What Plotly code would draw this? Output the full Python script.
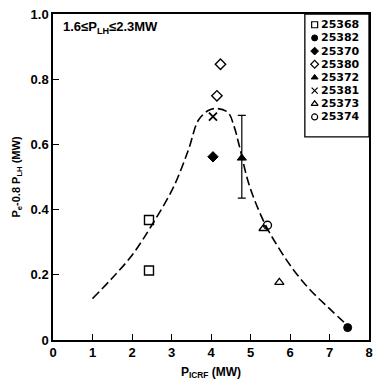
import plotly.graph_objects as go

# ---- data ----
shots = ["25368", "25382", "25370", "25380", "25372", "25381", "25373", "25374"]
px_25368 = [2.43, 2.43]; py_25368 = [0.368, 0.213]
px_25382 = [7.46]; py_25382 = [0.038]
px_25370 = [4.05]; py_25370 = [0.562]
px_25380 = [4.24, 4.15]; py_25380 = [0.846, 0.749]
px_25372 = [4.78]; py_25372 = [0.558]; err_up_25372 = [0.131]; err_dn_25372 = [0.123]
px_25381 = [4.05]; py_25381 = [0.685]
px_25373 = [5.33, 5.73]; py_25373 = [0.342, 0.177]
px_25374 = [5.43]; py_25374 = [0.352]

curve_x = [1.0, 1.5, 2.0, 2.5, 3.05, 3.43, 3.68, 3.93, 4.13, 4.43, 4.59, 4.72, 4.97, 5.35, 5.7, 6.09, 6.5, 7.0, 7.45]
curve_y = [0.127, 0.19, 0.26, 0.352, 0.469, 0.584, 0.674, 0.704, 0.71, 0.698, 0.653, 0.594, 0.474, 0.36, 0.285, 0.215, 0.155, 0.096, 0.045]

x_ticks = [0, 1, 2, 3, 4, 5, 6, 7, 8]
y_ticks = [0, 0.2, 0.4, 0.6, 0.8, 1.0]
y_ticklabels = ["0", "0.2", "0.4", "0.6", "0.8", "1.0"]

FONT = "Liberation Sans, Arial, sans-serif"
LEG_FONT = "DejaVu Sans, Liberation Sans, sans-serif"
fig = go.Figure()

fig.add_trace(go.Scatter(x=curve_x, y=curve_y, mode="lines",
                         line=dict(color="black", width=1.6, dash="9px,4px"),
                         line_shape="spline", showlegend=False, hoverinfo="skip"))

series = [
    (px_25368, py_25368, "square-open", 9, 1.4, None),
    (px_25382, py_25382, "circle", 8, 1.0, None),
    (px_25370, py_25370, "diamond", 8, 1.0, None),
    (px_25380, py_25380, "diamond-open", 8, 1.4, None),
    (px_25372, py_25372, "triangle-up", 8, 1.0,
     dict(type="data", symmetric=False, array=err_up_25372, arrayminus=err_dn_25372,
          color="black", thickness=1.2, width=4)),
    (px_25381, py_25381, "x-thin-open", 8, 1.8, None),
    (px_25373, py_25373, "triangle-up-open", 8, 1.3, None),
    (px_25374, py_25374, "circle-open", 8, 1.4, None),
]

for name, (x, y, sym, size, lw, err) in zip(shots, series):
    kw = {}
    if err is not None:
        kw["error_y"] = err
    fig.add_trace(go.Scatter(x=x, y=y, mode="markers", name=name, showlegend=False,
                             marker=dict(symbol=sym, size=size, color="black",
                                         line=dict(color="black", width=lw)), **kw))

# ---- hand-made compact legend (box top-right, inside the frame) ----
PLOT_TOP, PLOT_BOTTOM = 11, 345
def row_y(i):
    return (PLOT_BOTTOM - (22.0 + 13.5 * i)) / (PLOT_BOTTOM - PLOT_TOP)

leg_syms = [s[2] for s in series]
leg_lw = [s[4] for s in series]
for i, name in enumerate(shots):
    fig.add_trace(go.Scatter(x=[0.828], y=[row_y(i)], xaxis="x2", yaxis="y2", mode="markers",
                             showlegend=False, hoverinfo="skip",
                             marker=dict(symbol=leg_syms[i], size=6, color="black",
                                         line=dict(color="black", width=min(leg_lw[i], 1.2)))))
    fig.add_annotation(x=0.842, y=row_y(i), xref="paper", yref="paper", xanchor="left", yanchor="middle",
                       text="<b>" + name + "</b>", showarrow=False,
                       font=dict(family=LEG_FONT, size=11, color="black"))
fig.add_shape(type="rect", xref="paper", yref="paper", x0=0.797, x1=1.0, y0=0.623, y1=1.0,
              line=dict(color="black", width=1.3), fillcolor="rgba(0,0,0,0)")

fig.add_annotation(x=0.025, xref="paper", y=0.958, yref="y", xanchor="left", yanchor="middle",
                   text="<b>1.6≤P<sub>LH</sub>≤2.3MW</b>", showarrow=False,
                   font=dict(family=FONT, size=13, color="black"))

axis_common = dict(showgrid=False, zeroline=False, showline=True, linecolor="black", linewidth=1.5,
                   mirror=True, ticks="inside", ticklen=6, tickwidth=1.3, tickcolor="black",
                   tickfont=dict(family=FONT, size=13, color="black"))
fig.update_xaxes(range=[0, 8], tickvals=x_ticks, ticktext=["<b>%d</b>" % v for v in x_ticks],
                 title=dict(text="<b>P<sub>ICRF</sub> (MW)</b>", font=dict(family=FONT, size=12, color="black"), standoff=8),
                 **axis_common)
fig.update_yaxes(range=[0, 1.0], tickvals=y_ticks, ticktext=["<b>%s</b>" % t for t in y_ticklabels],
                 title=dict(text="<b>P<sub>e</sub>-0.8 P<sub>LH</sub> (MW)</b>", font=dict(family=FONT, size=11, color="black"), standoff=8),
                 **axis_common)

fig.update_layout(width=380, height=384, margin=dict(l=53, r=7, t=11, b=39),
                  paper_bgcolor="white", plot_bgcolor="white", showlegend=False,
                  xaxis2=dict(overlaying="x", range=[0, 1], visible=False),
                  yaxis2=dict(overlaying="y", range=[0, 1], visible=False),
                  font=dict(family=FONT, color="black"))

fig.write_html("out.html")
